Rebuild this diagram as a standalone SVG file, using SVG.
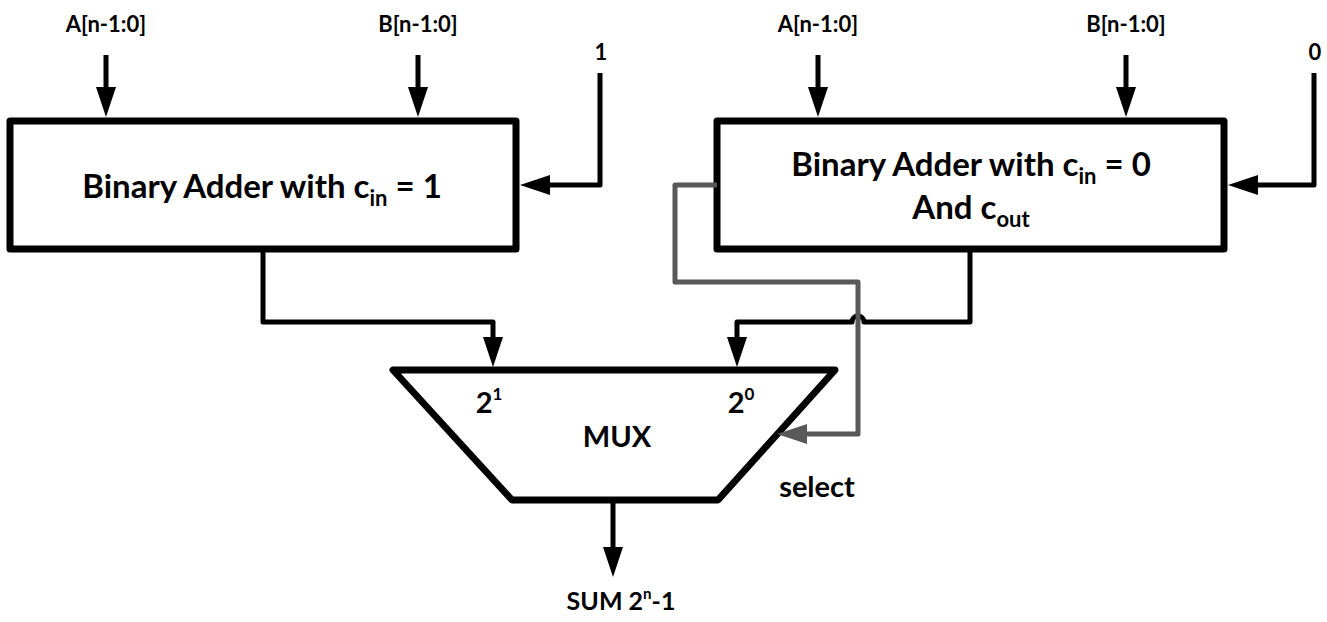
<svg xmlns="http://www.w3.org/2000/svg" width="1327" height="622" viewBox="0 0 1327 622">
<style>
text{font-family:Lato,"Open Sans","Liberation Sans",sans-serif;font-weight:bold;fill:#000;text-anchor:middle}
.lbl{font-size:22px}
.big{font-size:33px}
.mid{font-size:29px}
.sum{font-size:25px}
.box{fill:#fff;stroke:#000;stroke-width:7;stroke-linejoin:round}
.w{fill:none;stroke:#000;stroke-width:5;stroke-linejoin:round}
.g{fill:none;stroke:#595959;stroke-width:5;stroke-linejoin:round}
</style>
<defs>
<marker id="ah" markerWidth="30" markerHeight="20" refX="20" refY="10" orient="auto" markerUnits="userSpaceOnUse"><path d="M0,0 L30,10 L0,20 z" fill="#000"/></marker>
<marker id="ahg" markerWidth="30" markerHeight="20" refX="20" refY="10" orient="auto" markerUnits="userSpaceOnUse"><path d="M0,0 L30,10 L0,20 z" fill="#595959"/></marker>
</defs>
<rect width="1327" height="622" fill="#fff"/>
<g id="adder1">
<rect class="box" x="10" y="121" width="506" height="128"/>
<text class="big" x="262" y="198">Binary Adder with c<tspan font-size="22" dy="8">in</tspan><tspan dy="-8"> = 1</tspan></text>
</g>
<g id="adder0">
<rect class="box" x="717" y="121" width="507" height="128"/>
<text class="big" x="971" y="176">Binary Adder with c<tspan font-size="22" dy="8">in</tspan><tspan dy="-8"> = 0</tspan></text>
<text class="big" x="971" y="219">And c<tspan font-size="22" dy="8">out</tspan></text>
</g>
<g id="mux">
<polygon class="box" points="393,370 835,370 718,500 512,500"/>
<text class="mid" x="489" y="413">2<tspan font-size="17" dy="-13">1</tspan></text>
<text class="mid" x="741" y="413">2<tspan font-size="17" dy="-13">0</tspan></text>
<text class="mid" x="617" y="447">MUX</text>
</g>
<g id="labels">
<text class="lbl" x="106" y="32">A[n-1:0]</text>
<text class="lbl" x="418" y="32">B[n-1:0]</text>
<text class="lbl" x="601" y="60">1</text>
<text class="lbl" x="818" y="32">A[n-1:0]</text>
<text class="lbl" x="1126" y="32">B[n-1:0]</text>
<text class="lbl" x="1315" y="60">0</text>
<text class="mid" x="817" y="497">select</text>
<text class="sum" x="621" y="610">SUM 2<tspan font-size="15" dy="-11">n</tspan><tspan dy="11">-1</tspan></text>
</g>
<g id="connectors">
<path class="w" d="M106,55 V107" marker-end="url(#ah)"/>
<path class="w" d="M418,55 V107" marker-end="url(#ah)"/>
<path class="w" d="M818,55 V107" marker-end="url(#ah)"/>
<path class="w" d="M1126,55 V107" marker-end="url(#ah)"/>
<path class="w" d="M600,73 V185 H530" marker-end="url(#ah)"/>
<path class="w" d="M1314,73 V185 H1238" marker-end="url(#ah)"/>
<path class="w" d="M263,250 V322 H493 V357" marker-end="url(#ah)"/>
<path class="w" d="M970,250 V322 H864 A6,6 0 0 0 852,322 H737 V357" marker-end="url(#ah)"/>
<path class="g" d="M717,185 H675 V282 H858 V434 H787" marker-end="url(#ahg)"/>
<path class="w" d="M613,500 V567" marker-end="url(#ah)"/>
</g>
</svg>
